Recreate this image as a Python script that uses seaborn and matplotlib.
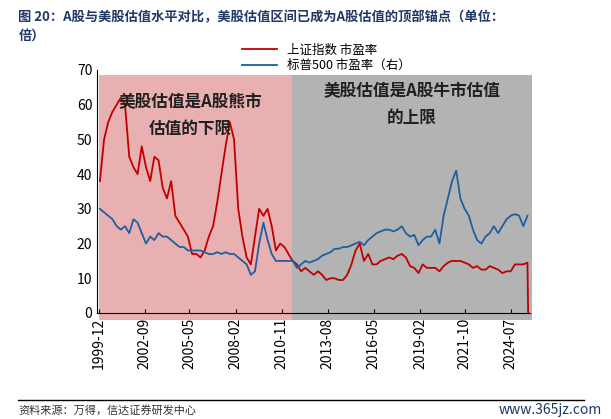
import matplotlib.pyplot as plt
import seaborn as sns
import pandas as pd
import numpy as np

plt.rcParams['font.family'] = ['Noto Sans CJK SC', 'DejaVu Sans']

# quarterly readings, 1999-12 .. 2025-06 (last red point drops to 0)
sh_pe = [38, 50, 55, 58, 60, 62, 60, 45, 42, 40, 48, 42, 38, 45, 44, 36, 33, 38, 28, 26, 24,
         22, 17, 17, 16, 18, 22, 25, 32, 40, 48, 55, 50, 30, 22, 16, 14, 22, 30, 28, 30,
         25, 18, 20, 19, 17, 15, 14, 12, 13, 12, 11, 12, 11, 9.5, 10, 10, 9.5, 9.5, 11, 14,
         18, 20, 15, 17, 14, 14, 15, 15.5, 16, 15.5, 16.5, 17, 16, 13.5, 13, 11.5, 14, 13,
         13, 13, 12, 13.5, 14.5, 15, 15, 15, 14.5, 14, 13, 13.5, 12.5, 12.5, 13.5, 13, 12.5,
         11.5, 12, 12, 14, 14, 14, 14.5, 0]
spx_pe = [30, 29, 28, 27, 25, 24, 25, 23, 27, 26, 23, 20, 22, 21, 23, 22, 22, 21, 20, 19, 19,
          18, 18, 18, 18, 17.5, 17, 17, 17.5, 17, 17.5, 17, 17, 16, 15, 14, 11, 12, 20, 26, 21,
          17, 15, 15, 15, 15, 15, 13, 14, 15, 14.5, 15, 15.5, 16.5, 17, 17.5, 18.5, 18.5, 19,
          19, 19.5, 20, 20.5, 19.5, 21, 22, 23, 23.5, 24, 24, 23.5, 24, 25, 23, 22, 22.5, 19.5,
          21, 22, 22, 24, 20, 28, 33, 38, 41, 33, 30, 28, 24, 21, 20, 22, 23, 25, 23, 25, 27,
          28, 28.5, 28, 25, 28, np.nan]
tick_labels = ['1999-12', '2002-09', '2005-05', '2008-02', '2010-11',
               '2013-08', '2016-05', '2019-02', '2021-10', '2024-07']

dates = pd.date_range('1999-12-31', periods=len(sh_pe), freq='QE')
dates = dates[:-1].append(pd.DatetimeIndex(['2025-07-15']))
df = pd.DataFrame({'date': dates, '上证指数 市盈率': sh_pe, '标普500 市盈率（右）': spx_pe})

fig = plt.figure(figsize=(6.11, 4.19), dpi=100)
ax = fig.add_axes([0.159, 0.253, 0.709, 0.58])
ax.axvspan(pd.Timestamp('1999-12-15'), pd.Timestamp('2011-06-15'), ymin=-0.03, ymax=0.98,
           color='#e8b0b0', lw=0, clip_on=False)
ax.axvspan(pd.Timestamp('2011-06-25'), pd.Timestamp('2025-10-01'), ymin=-0.03, ymax=0.98,
           color='#b3b3b3', lw=0, clip_on=False)
sns.lineplot(data=df, x='date', y='上证指数 市盈率', ax=ax, color='#c00000', lw=1.3,
             label='上证指数 市盈率', legend=False)
sns.lineplot(data=df, x='date', y='标普500 市盈率（右）', ax=ax, color='#1f5fa0', lw=1.3,
             label='标普500 市盈率（右）', legend=False)

ax.set_ylim(0, 70)
ax.set_xlim(pd.Timestamp('1999-11-01'), pd.Timestamp('2025-09-01'))
ax.set_yticks(range(0, 71, 10))
ax.set_xticks(pd.to_datetime(tick_labels))
ax.set_xticklabels(tick_labels, rotation=90, fontsize=10)
ax.tick_params(axis='y', labelsize=10, length=0)
ax.tick_params(axis='x', direction='in', length=3)
ax.set_xlabel('')
ax.set_ylabel('')
for s in ['top', 'right']:
    ax.spines[s].set_visible(False)

ax.text(pd.Timestamp('2005-06-01'), 57, '美股估值是A股熊市\n估值的下限', ha='center', va='center',
        fontsize=12, fontweight='bold', color='#202020', linespacing=1.6)
ax.text(pd.Timestamp('2018-08-01'), 60, '美股估值是A股牛市估值\n的上限', ha='center', va='center',
        fontsize=12, fontweight='bold', color='#202020', linespacing=1.6)

ax.legend(loc='lower left', bbox_to_anchor=(0.32, 0.965), frameon=False, fontsize=9,
          handlelength=2.8, borderpad=0, labelspacing=0.2)

fig.text(0.03, 0.975, '图 20：A股与美股估值水平对比，美股估值区间已成为A股估值的顶部锚点（单位：\n倍）',
         fontsize=9.5, fontweight='bold', color='#1f3864', va='top', linespacing=1.4)
fig.add_artist(plt.Line2D([0.03, 0.955], [0.045, 0.045], color='black', lw=1))
fig.text(0.03, 0.012, '资料来源：万得，信达证券研发中心', fontsize=8, style='italic', color='#333333')
fig.text(0.985, 0.012, 'www.365jz.com', fontsize=10, color='#1f3864', ha='right')

fig.savefig('out.png', dpi=100)
